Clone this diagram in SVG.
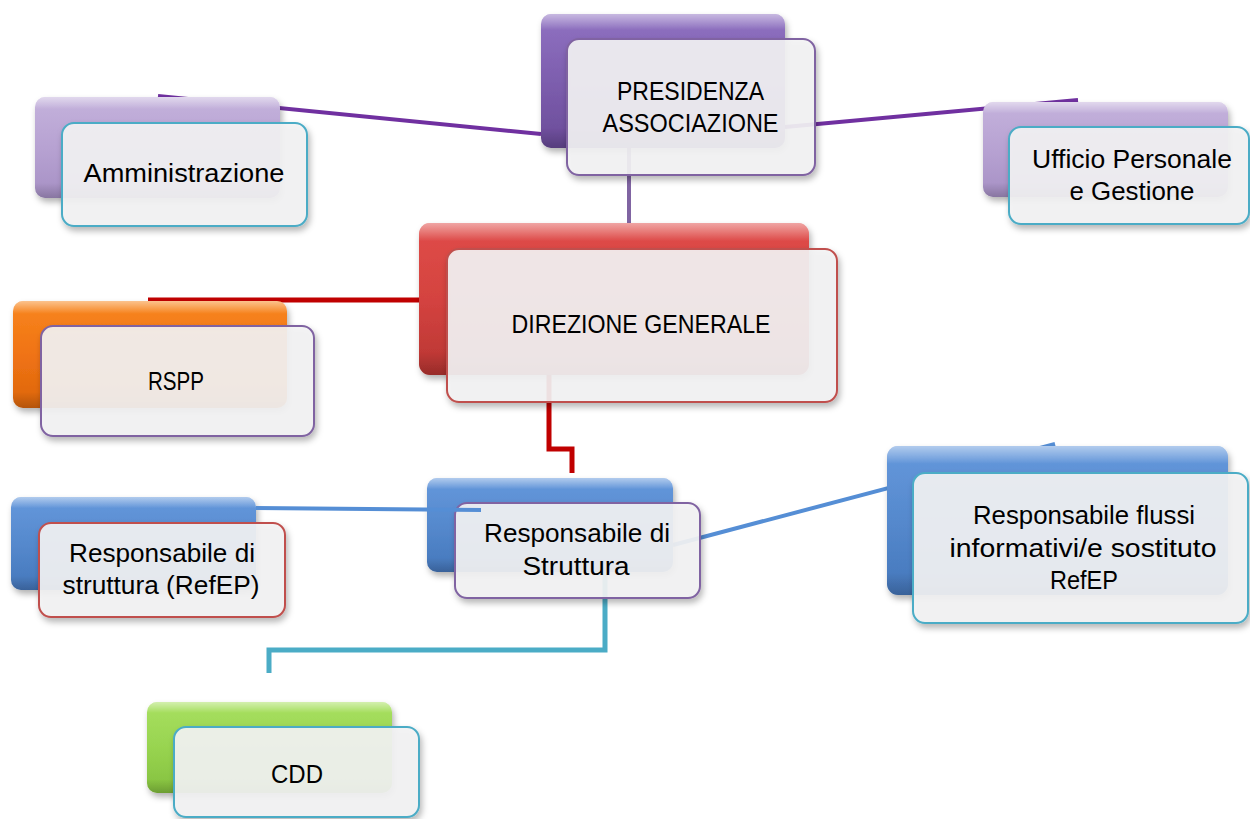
<svg xmlns="http://www.w3.org/2000/svg" width="1250" height="819" viewBox="0 0 1250 819">
<defs>
  <filter id="sh" x="-10%" y="-10%" width="130%" height="140%">
    <feDropShadow dx="2" dy="4" stdDeviation="3" flood-color="#000" flood-opacity="0.3"/>
  </filter>
  <linearGradient id="gPur" x1="0" y1="0" x2="0" y2="1">
    <stop offset="0" stop-color="#9072c2"/><stop offset="0.5" stop-color="#7d5eae"/><stop offset="1" stop-color="#6a4b98"/>
  </linearGradient>
  <linearGradient id="gLPur" x1="0" y1="0" x2="0" y2="1">
    <stop offset="0" stop-color="#c4b2dc"/><stop offset="0.5" stop-color="#b7a2d2"/><stop offset="1" stop-color="#a690c4"/>
  </linearGradient>
  <linearGradient id="gRed" x1="0" y1="0" x2="0" y2="1">
    <stop offset="0" stop-color="#e04c48"/><stop offset="0.5" stop-color="#d44340"/><stop offset="1" stop-color="#b83532"/>
  </linearGradient>
  <linearGradient id="gOra" x1="0" y1="0" x2="0" y2="1">
    <stop offset="0" stop-color="#f8861e"/><stop offset="0.5" stop-color="#f07314"/><stop offset="1" stop-color="#dc660c"/>
  </linearGradient>
  <linearGradient id="gBlu" x1="0" y1="0" x2="0" y2="1">
    <stop offset="0" stop-color="#6598dc"/><stop offset="0.5" stop-color="#5589cd"/><stop offset="1" stop-color="#4577bb"/>
  </linearGradient>
  <linearGradient id="gGre" x1="0" y1="0" x2="0" y2="1">
    <stop offset="0" stop-color="#a8e060"/><stop offset="0.5" stop-color="#98d450"/><stop offset="1" stop-color="#84c03e"/>
  </linearGradient>
  <linearGradient id="gl" x1="0" y1="0" x2="0" y2="1">
    <stop offset="0" stop-color="#fff" stop-opacity="0.5"/><stop offset="0.12" stop-color="#fff" stop-opacity="0"/>
    <stop offset="0.85" stop-color="#000" stop-opacity="0"/><stop offset="1" stop-color="#000" stop-opacity="0.18"/>
  </linearGradient>
</defs>
<style>
  .back{filter:url(#sh)}
  .gloss{fill:url(#gl)}
  .front{fill:#f3f3f4;fill-opacity:0.91;stroke-width:2;filter:url(#sh)}
  .t{font-family:"Liberation Sans",Arial,sans-serif;font-size:26px;fill:#000;text-anchor:middle}
  .c{fill:none;stroke-linecap:butt;stroke-linejoin:miter}
  .pur{stroke:#7030a0;stroke-width:4}
  .red{stroke:#c00000;stroke-width:5}
  .blu{stroke:#558ed5;stroke-width:4}
  .cya{stroke:#4bacc6;stroke-width:5}
</style>
<rect width="1250" height="819" fill="#fff"/>

<g id="connectors">
  <line class="c pur" x1="158" y1="96" x2="541" y2="134"/>
  <line class="c pur" x1="785" y1="127" x2="1078" y2="100"/>
  <line class="c" stroke="#8064a2" stroke-width="4" x1="629" y1="148" x2="629" y2="224"/>
  <line class="c red" x1="148" y1="300" x2="419" y2="300"/>
  <path class="c red" d="M549,375 V449 H572 V473"/>
  <line class="c blu" x1="673" y1="545" x2="1055" y2="444"/>
  <path class="c cya" d="M605,572 V650 H269 V673"/>
</g>

<g id="presidenza">
  <rect class="back" x="541" y="14" width="244" height="134" rx="10" fill="url(#gPur)"/>
  <rect class="gloss" x="541" y="14" width="244" height="134" rx="10"/>
  <rect class="front" x="567" y="39" width="248" height="136" rx="12" stroke="#8064a2"/>
  <text class="t" x="690.5" y="100" textLength="147" lengthAdjust="spacingAndGlyphs">PRESIDENZA</text>
  <text class="t" x="690.5" y="132" textLength="176" lengthAdjust="spacingAndGlyphs">ASSOCIAZIONE</text>
</g>

<g id="amministrazione">
  <rect class="back" x="35" y="97" width="245" height="101" rx="10" fill="url(#gLPur)"/>
  <rect class="gloss" x="35" y="97" width="245" height="101" rx="10"/>
  <rect class="front" x="62" y="123" width="245" height="103" rx="12" stroke="#4bacc6"/>
  <text class="t" x="184" y="182" textLength="201" lengthAdjust="spacingAndGlyphs">Amministrazione</text>
</g>

<g id="ufficio">
  <rect class="back" x="983" y="102" width="245" height="95" rx="10" fill="url(#gLPur)"/>
  <rect class="gloss" x="983" y="102" width="245" height="95" rx="10"/>
  <rect class="front" x="1009" y="127" width="240" height="97" rx="12" stroke="#4bacc6"/>
  <text class="t" x="1132" y="168" textLength="200" lengthAdjust="spacingAndGlyphs">Ufficio Personale</text>
  <text class="t" x="1132" y="200" textLength="125" lengthAdjust="spacingAndGlyphs">e Gestione</text>
</g>

<g id="direzione">
  <rect class="back" x="419" y="223" width="390" height="152" rx="11" fill="url(#gRed)"/>
  <rect class="gloss" x="419" y="223" width="390" height="152" rx="11"/>
  <rect class="front" x="447" y="249" width="390" height="153" rx="12" stroke="#c0504d"/>
  <text class="t" x="641" y="333" textLength="259" lengthAdjust="spacingAndGlyphs">DIREZIONE GENERALE</text>
</g>

<g id="rspp">
  <rect class="back" x="13" y="301" width="274" height="107" rx="10" fill="url(#gOra)"/>
  <rect class="gloss" x="13" y="301" width="274" height="107" rx="10"/>
  <rect class="front" x="41" y="326" width="273" height="110" rx="12" stroke="#8064a2"/>
  <text class="t" x="176" y="390" textLength="56" lengthAdjust="spacingAndGlyphs">RSPP</text>
</g>

<g id="resp-refep">
  <rect class="back" x="11" y="497" width="245" height="93" rx="10" fill="url(#gBlu)"/>
  <rect class="gloss" x="11" y="497" width="245" height="93" rx="10"/>
  <rect class="front" x="39" y="523" width="246" height="94" rx="12" stroke="#c0504d"/>
  <text class="t" x="162" y="562" textLength="186" lengthAdjust="spacingAndGlyphs">Responsabile di</text>
  <text class="t" x="161" y="594" textLength="197" lengthAdjust="spacingAndGlyphs">struttura (RefEP)</text>
</g>

<g id="resp-struttura">
  <rect class="back" x="427" y="478" width="246" height="94" rx="10" fill="url(#gBlu)"/>
  <rect class="gloss" x="427" y="478" width="246" height="94" rx="10"/>
  <rect class="front" x="455" y="503" width="245" height="95" rx="12" stroke="#8064a2"/>
  <text class="t" x="577" y="542" textLength="186" lengthAdjust="spacingAndGlyphs">Responsabile di</text>
  <text class="t" x="576" y="575" textLength="107" lengthAdjust="spacingAndGlyphs">Struttura</text>
</g>

<g id="connector-refep">
  <line class="c blu" x1="256" y1="508" x2="481" y2="510"/>
</g>

<g id="resp-flussi">
  <rect class="back" x="887" y="446" width="341" height="149" rx="11" fill="url(#gBlu)"/>
  <rect class="gloss" x="887" y="446" width="341" height="149" rx="11"/>
  <rect class="front" x="913" y="473" width="335" height="150" rx="12" stroke="#4bacc6"/>
  <text class="t" x="1084" y="524" textLength="222" lengthAdjust="spacingAndGlyphs">Responsabile flussi</text>
  <text class="t" x="1083" y="557" textLength="267" lengthAdjust="spacingAndGlyphs">informativi/e sostituto</text>
  <text class="t" x="1084" y="589" textLength="68" lengthAdjust="spacingAndGlyphs">RefEP</text>
</g>

<g id="cdd">
  <rect class="back" x="147" y="702" width="245" height="91" rx="10" fill="url(#gGre)"/>
  <rect class="gloss" x="147" y="702" width="245" height="91" rx="10"/>
  <rect class="front" x="174" y="727" width="245" height="90" rx="12" stroke="#4bacc6"/>
  <text class="t" x="297" y="783" textLength="52" lengthAdjust="spacingAndGlyphs">CDD</text>
</g>
</svg>
